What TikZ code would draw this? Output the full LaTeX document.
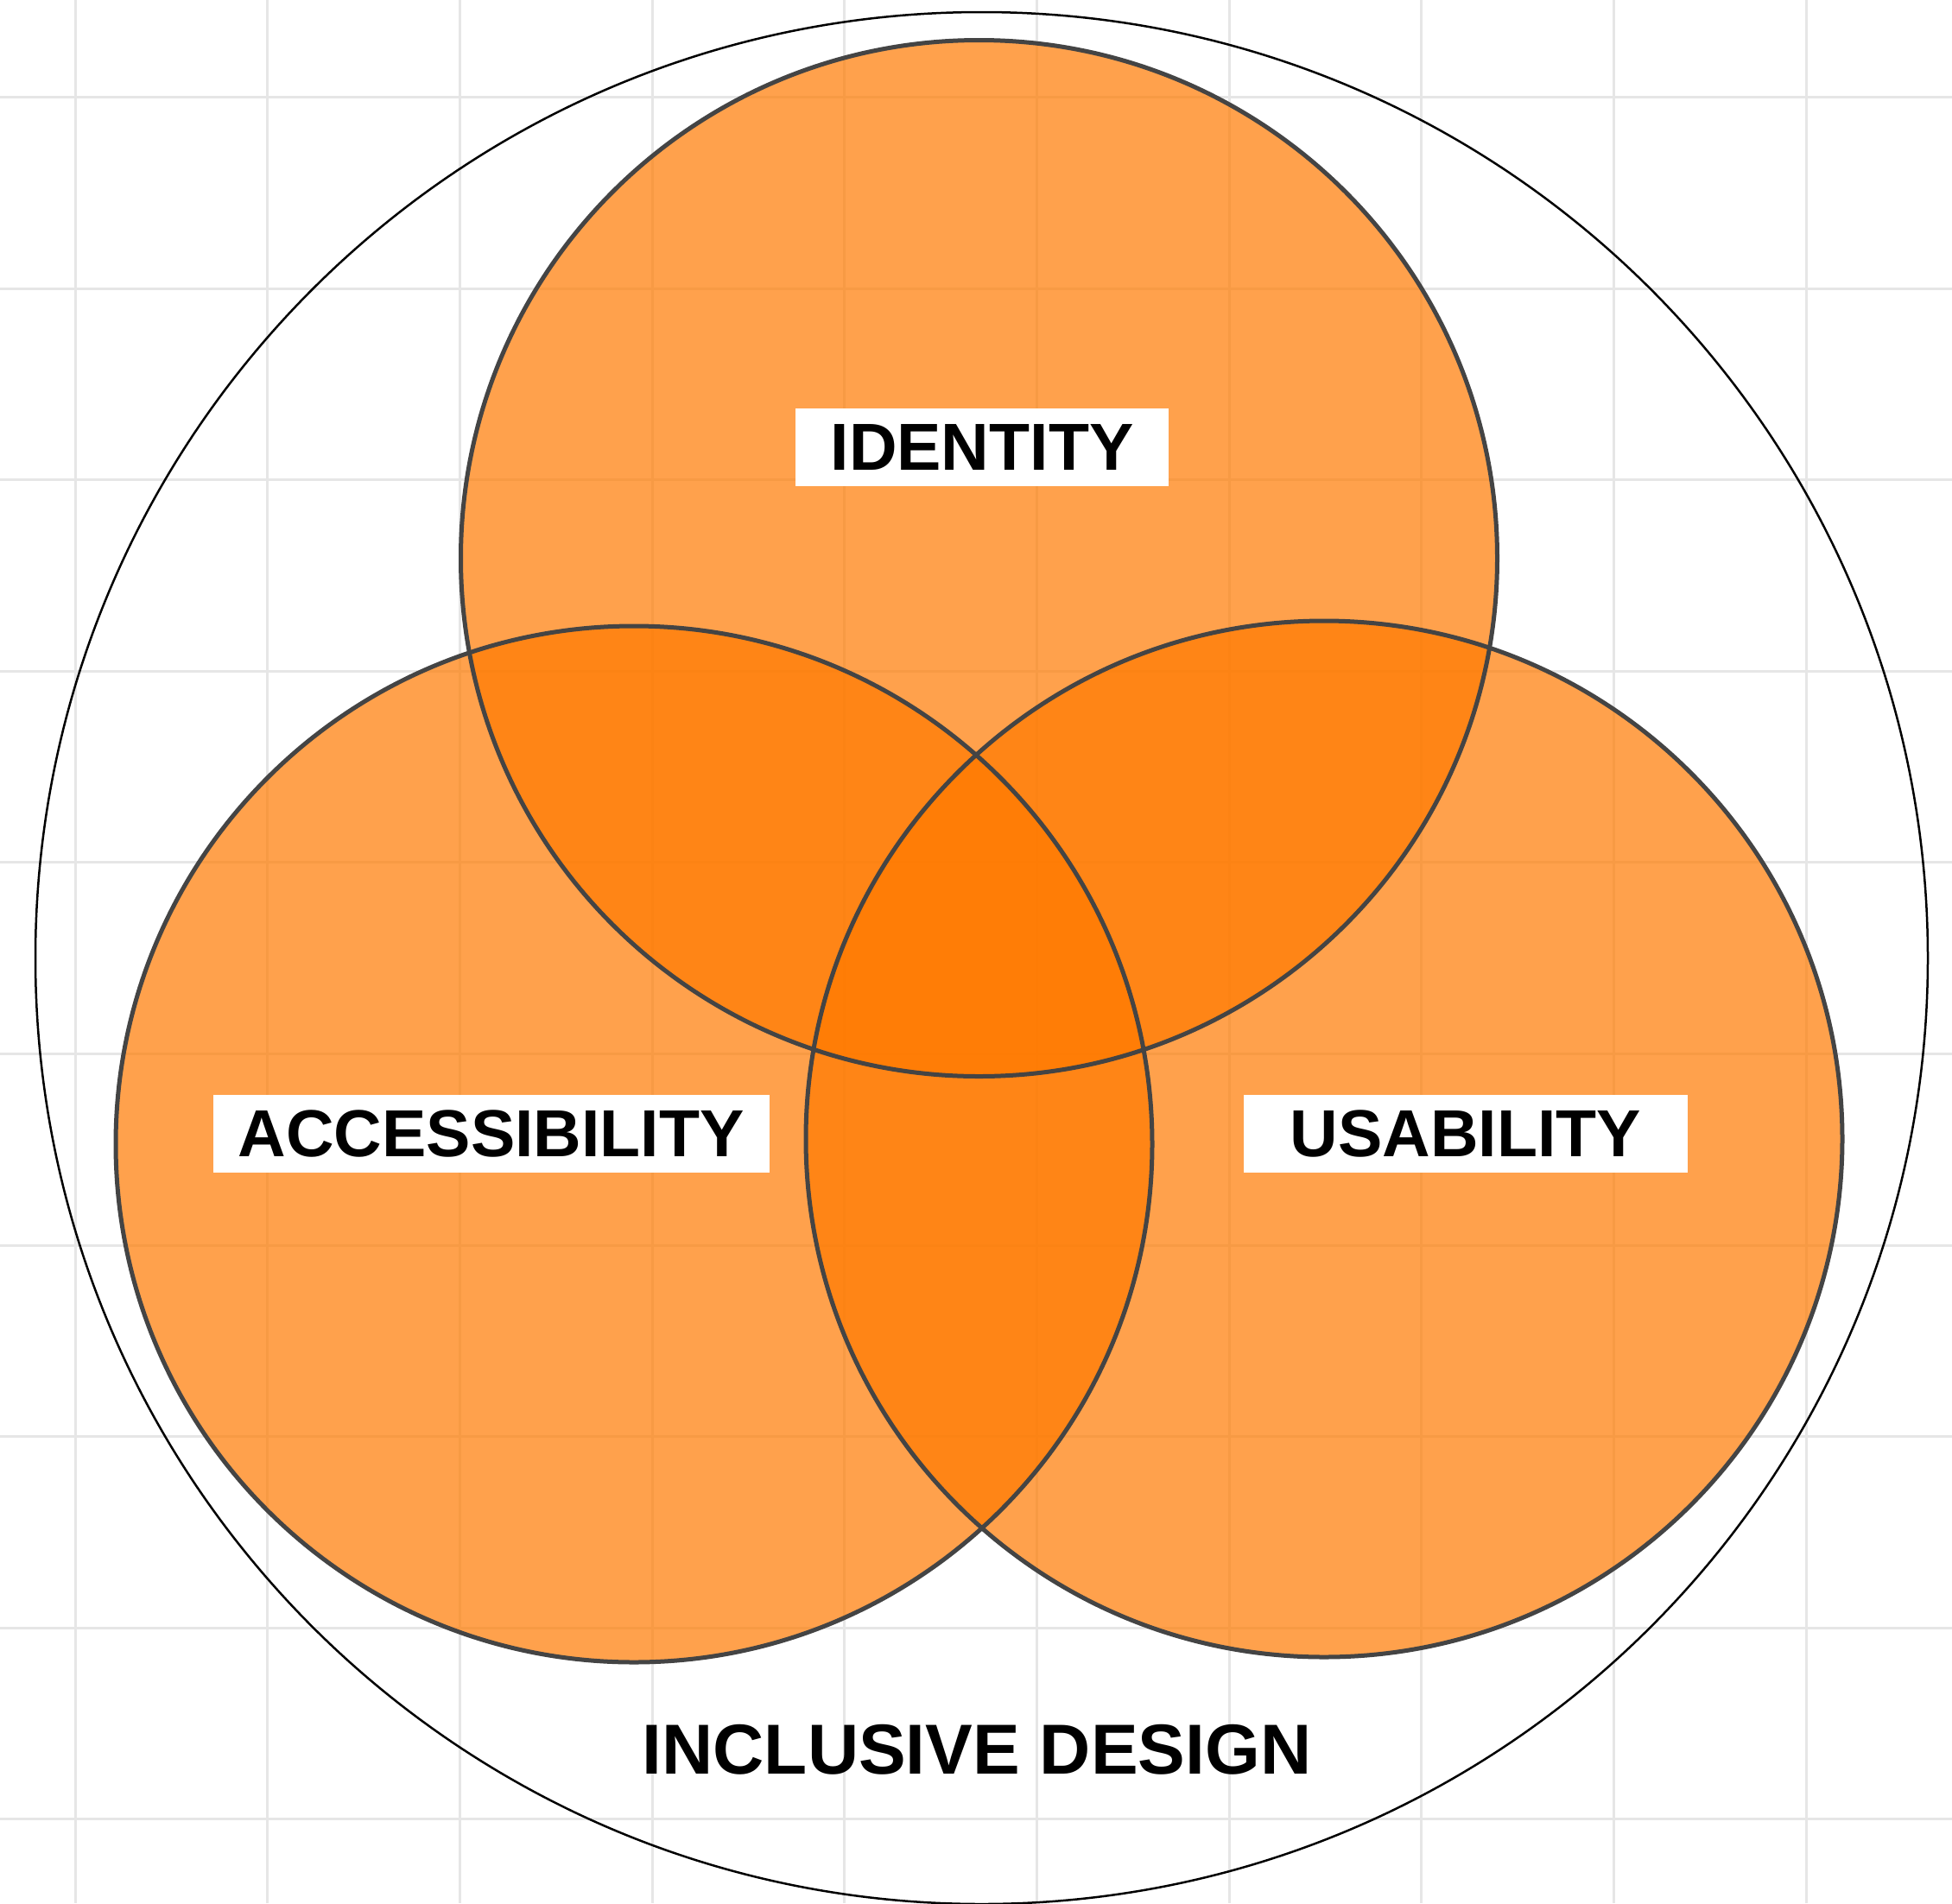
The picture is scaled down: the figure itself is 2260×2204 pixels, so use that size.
\documentclass[tikz,border=0pt]{standalone}
\usepackage{fontspec}
\setmainfont{Liberation Sans}
\definecolor{gridgray}{HTML}{E6E6E6}
\definecolor{vennorange}{HTML}{FF7A00}
\definecolor{edgegray}{HTML}{444444}
\begin{document}
\begin{tikzpicture}[x=1pt,y=-1pt,
  gridline/.style={draw=gridgray, line width=3pt},
  ring/.style={draw=black, line width=2.5pt},
  setfill/.style={fill=vennorange, fill opacity=0.7},
  setedge/.style={draw=edgegray, line width=5pt},
  tag/.style={fill=white, inner sep=0pt, minimum height=90pt,
    font=\fontsize{77}{80}\selectfont\bfseries},
  title/.style={inner sep=0pt, font=\fontsize{82}{86}\selectfont\bfseries}]

% canvas
\useasboundingbox (0,0) rectangle (2260,2204);
\fill[white] (0,0) rectangle (2260,2204);

% background grid
\foreach \k in {0,...,9}{
  \draw[gridline] ({87+222.67*\k},0) -- ({87+222.67*\k},2204);
  \draw[gridline] (0,{112.5+221.6*\k}) -- (2260,{112.5+221.6*\k});
}

% centres of the sets
\coordinate (cO) at (1136.5,1109.5);
\coordinate (cI) at (1133.5,646.5);
\coordinate (cA) at (734,1325);
\coordinate (cU) at (1533,1319);

% enclosing ring
\draw[ring] (cO) circle[radius=1095.5];

% translucent set fills, then their outlines on top
\fill[setfill] (cI) circle[radius=600];
\fill[setfill] (cA) circle[radius=600];
\fill[setfill] (cU) circle[radius=600];
\draw[setedge] (cI) circle[radius=600];
\draw[setedge] (cA) circle[radius=600];
\draw[setedge] (cU) circle[radius=600];

% set labels
\node[tag, minimum width=432pt] (identity) at (1137,518) {IDENTITY};
\node[tag, minimum width=644pt] (access) at (568.6,1313) {ACCESSIBILITY};
\node[tag, minimum width=514pt] (usab) at (1697,1313) {USABILITY};
\node[title] (incl) at (1131,2026) {INCLUSIVE DESIGN};
\end{tikzpicture}
\end{document}
